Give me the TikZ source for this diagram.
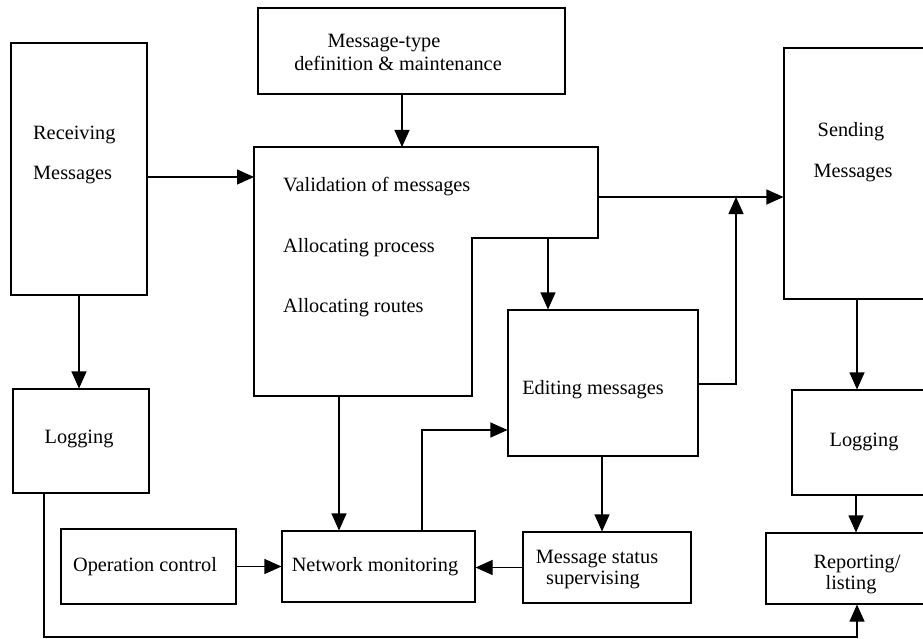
\documentclass[tikz,border=0pt]{standalone}
\usepackage{fontspec}
\setmainfont{Liberation Serif}
\usetikzlibrary{arrows.meta,calc}
\begin{document}
\begin{tikzpicture}[x=1pt,y=-1pt,
  box/.style={draw,line width=1.1pt,rectangle,inner sep=0pt},
  lbl/.style={inner sep=0pt,font=\fontsize{20.3}{23}\selectfont},
  conn/.style={line width=1.1pt},
  arr/.style={line width=1.1pt,-{Triangle[length=17pt,width=15pt]}}]
\useasboundingbox (0,0) rectangle (923,639);
\clip (0,0) rectangle (923,639);
\fill[white] (0,0) rectangle (923,639);
% boxes
\node[box,minimum width=136pt,minimum height=252pt] (recv) at (79,169) {};
\node[box,minimum width=307pt,minimum height=86pt] (msgtype) at (411.5,51) {};
\node[box,minimum width=176pt,minimum height=251pt] (send) at (872,173.5) {};
\node[box,minimum width=190pt,minimum height=146pt] (edit) at (603,383) {};
\node[box,minimum width=136pt,minimum height=104pt] (logL) at (81,441) {};
\node[box,minimum width=175pt,minimum height=75pt] (opc) at (148.5,566.5) {};
\node[box,minimum width=193pt,minimum height=71pt] (net) at (378.5,566.5) {};
\node[box,minimum width=168pt,minimum height=71pt] (mss) at (607,567.5) {};
\node[box,minimum width=168pt,minimum height=105pt] (logR) at (876,442.5) {};
\node[box,minimum width=194pt,minimum height=71pt] (rep) at (863,568.5) {};
% L-shaped box
\coordinate (Ltl) at (254,147);
\coordinate (Ltr) at (598,147);
\coordinate (Lnr) at (598,238);
\coordinate (Lnl) at (472,238);
\coordinate (Lbr) at (472,396);
\coordinate (Lbl) at (254,396);
\draw[line width=1.1pt] (Ltl) -- (Ltr) -- (Lnr) -- (Lnl) -- (Lbr) -- (Lbl) -- cycle;
% texts
\node[lbl,anchor=west] (trecv1) at (33,135) {Receiving};
\node[lbl,anchor=west] (trecv2) at (33,175) {Messages};
\node[lbl] (tmt1) at (384,43) {Message-type};
\node[lbl] (tmt2) at (398,63) {definition \& maintenance};
\node[lbl,anchor=west] (tval) at (283,187) {Validation of messages};
\node[lbl,anchor=west] (tproc) at (283,248) {Allocating process};
\node[lbl,anchor=west] (trout) at (283,308) {Allocating routes};
\node[lbl] (tsend1) at (851,132) {Sending};
\node[lbl] (tsend2) at (853,173) {Messages};
\node[lbl] (tedit) at (593,390) {Editing messages};
\node[lbl] (tlogL) at (79,439) {Logging};
\node[lbl] (topc) at (145,567) {Operation control};
\node[lbl] (tnet) at (375,567) {Network monitoring};
\node[lbl] (tmss1) at (597,559) {Message status};
\node[lbl] (tmss2) at (593,580) {supervising};
\node[lbl] (tlogR) at (864,442) {Logging};
\node[lbl] (trep1) at (857,564) {Reporting/};
\node[lbl] (trep2) at (851,585) {listing};
% connectors
\draw[arr] (recv.east |- 0,177) -- (Ltl |- 0,177);
\draw[arr] (msgtype.south -| 402,0) -- (Ltl -| 402,0);
\draw[arr] (Ltr |- 0,197) -- (send.west |- 0,197);
\coordinate (join) at (736,197);
\draw[arr] (edit.east |- 0,384) -| (join);
\draw[arr] (Lnl -| 548,0) -- (edit.north -| 548,0);
\draw[arr] (recv.south) -- (logL.north -| recv.south);
\draw[arr] (Lbl -| 339,0) -- (net.north -| 339,0);
\draw[arr] (net.north -| 422,0) |- (edit.west |- 0,430);
\draw[arr] (edit.south -| 602,0) -- (mss.north -| 602,0);
\draw[arr] (mss.west) -- (net.east |- mss.west);
\draw[arr] (opc.east) -- (net.west |- opc.east);
\draw[arr] (send.south -| 857,0) -- (logR.north -| 857,0);
\draw[arr] (logR.south -| 856,0) -- (rep.north -| 856,0);
\coordinate (bot) at (44,637);
\draw[arr] (logL.south -| bot) -- (bot) -| (rep.south -| 857,0);
\end{tikzpicture}
\end{document}
